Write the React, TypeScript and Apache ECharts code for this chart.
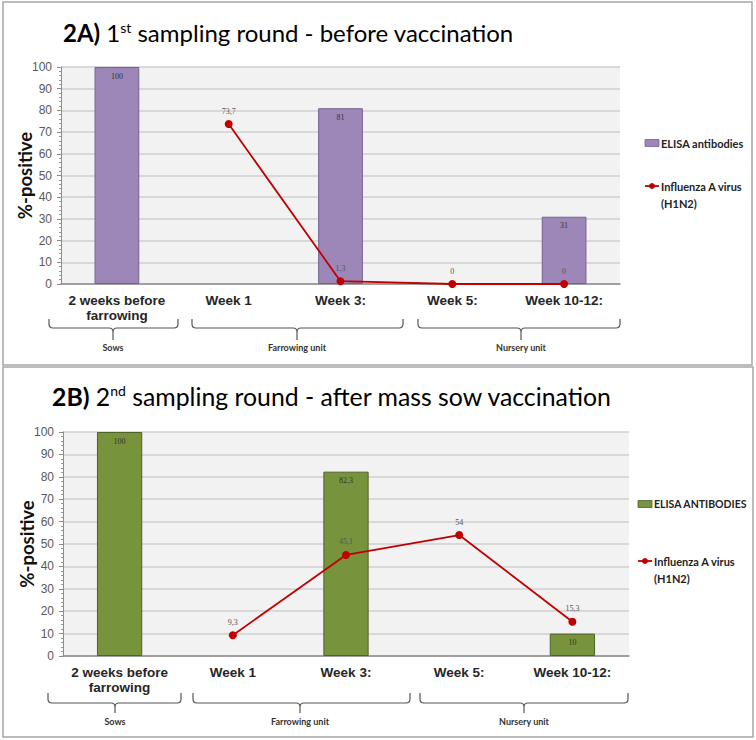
import React, { useEffect, useRef } from "react";
import * as echarts from "echarts";

const categories = ["2 weeks before\nfarrowing", "Week 1", "Week 3:", "Week 5:", "Week 10-12:"];
const elisaA: (number | null)[] = [100, null, 81, null, 31];
const fluA: (number | null)[] = [null, 73.7, 1.3, 0, 0];
const elisaB: (number | null)[] = [100, null, 82.3, null, 10];
const fluB: (number | null)[] = [null, 9.3, 45.1, 54, 15.3];
const groupLabels = ["Sows", "Farrowing unit", "Nursery unit"];
const yMin = 0;
const yMax = 100;
const yInterval = 10;

const PURPLE = "#9d87b8";
const PURPLE_EDGE = "#73648f";
const GREEN = "#77933c";
const GREEN_EDGE = "#4f6228";
const RED = "#c00000";

const toData = (a: (number | null)[]) => a.map((v) => (v === null ? "-" : v));
const fmt = (p: any) => String(p.value).replace(".", ",");

function bracePath(x1: number, x2: number, xt: number, yTop: number, yMid: number, yTip: number) {
  const r = 4;
  return (
    `M${x1},${yTop} L${x1},${yMid - r} Q${x1},${yMid} ${x1 + r},${yMid} L${xt - r},${yMid} Q${xt},${yMid} ${xt},${yMid + r} L${xt},${yTip} ` +
    `M${x2},${yTop} L${x2},${yMid - r} Q${x2},${yMid} ${x2 - r},${yMid} L${xt + r},${yMid} Q${xt},${yMid} ${xt},${yMid + r}`
  );
}

export default function App() {
  const ref = useRef<HTMLDivElement>(null);
  useEffect(() => {
    if (!ref.current) return;
    document.body.style.margin = "0";
    const chart = echarts.init(ref.current, undefined, { renderer: "svg" });

    const bracesA = [
      [49, 178, 113],
      [192, 403, 297],
      [418, 620, 521],
    ];
    const bracesB = [
      [48, 181, 115],
      [193, 410, 300],
      [420, 628, 524],
    ];
    const graphics: any[] = [];
    graphics.push({ type: "rect", shape: { x: 3, y: 2, width: 749, height: 363 }, style: { fill: "none", stroke: "#a6a6a6", lineWidth: 1.5 }, silent: true });
    graphics.push({ type: "rect", shape: { x: 3, y: 367, width: 750, height: 370 }, style: { fill: "none", stroke: "#a6a6a6", lineWidth: 1.5 }, silent: true });

    const addBraces = (list: number[][], yTop: number, yMid: number, yTip: number, yLab: number, key: string) => {
      list.forEach((b, i) => {
        const name = `brace${key}${i}`;
        echarts.graphic.registerShape(name, echarts.graphic.extendPath(bracePath(b[0], b[1], b[2], yTop, yMid, yTip), {}) as any);
        graphics.push({ type: name, x: 0, y: 0, style: { fill: "none", stroke: "#555", lineWidth: 1.2 } });
        graphics.push({
          type: "text",
          x: b[2],
          y: yLab,
          style: { text: groupLabels[i], fill: "#333", font: "bold 9px Lato", align: "center", verticalAlign: "middle" },
        });
      });
    };
    addBraces(bracesA, 319, 328, 340, 347, "A");
    addBraces(bracesB, 693, 703, 713, 721, "B");

    const titleRich = (fs: number) => ({
      b: { fontFamily: "Lato", fontWeight: "bold", fontSize: fs, color: "#111" },
      n: { fontFamily: "Lato", fontSize: fs, color: "#111" },
      s: { fontFamily: "Lato", fontSize: Math.round(fs * 0.58), color: "#111", verticalAlign: "top" },
    });
    graphics.push({
      type: "text",
      x: 63,
      y: 32,
      style: { text: "{b|2A)}{n| 1}{s|st}{n| sampling round - before vaccination}", rich: titleRich(24), verticalAlign: "middle" },
    });
    graphics.push({
      type: "text",
      x: 52,
      y: 396,
      style: { text: "{b|2B)}{n| 2}{s|nd}{n| sampling round - after mass sow vaccination}", rich: titleRich(24.8), verticalAlign: "middle" },
    });

    const legend = (x: number, yBar: number, yLine: number, barColor: string, barEdge: string, barText: string, fsBar: number, fs: number) => {
      graphics.push({ type: "rect", shape: { x, y: yBar - 3.5, width: 14, height: 7 }, style: { fill: barColor, stroke: barEdge, lineWidth: 0.8 } });
      graphics.push({ type: "text", x: x + 16, y: yBar, style: { text: barText, font: `bold ${fsBar}px Lato`, fill: "#222", verticalAlign: "middle" } });
      graphics.push({ type: "line", shape: { x1: x, y1: yLine, x2: x + 14, y2: yLine }, style: { stroke: RED, lineWidth: 1.8 } });
      graphics.push({ type: "circle", shape: { cx: x + 7, cy: yLine, r: 3 }, style: { fill: RED } });
      graphics.push({ type: "text", x: x + 16, y: yLine, style: { text: "Influenza A virus", font: `bold ${fs}px Lato`, fill: "#222", verticalAlign: "middle" } });
      graphics.push({ type: "text", x: x + 16, y: yLine + 17, style: { text: "(H1N2)", font: `bold ${fs}px Lato`, fill: "#222", verticalAlign: "middle" } });
    };
    legend(645, 143, 186, PURPLE, PURPLE_EDGE, "ELISA antibodies", 11, 11);
    legend(638, 504, 561, GREEN, GREEN_EDGE, "ELISA ANTIBODIES", 10.5, 11);

    const yAxisCommon = (gi: number) => ({
      type: "value",
      gridIndex: gi,
      min: yMin,
      max: yMax,
      interval: yInterval,
      name: "%-positive",
      nameLocation: "middle",
      nameGap: 27,
      nameMoveOverlap: false,
      nameTextStyle: { fontFamily: "Lato", fontWeight: "bold", fontSize: 18.5, color: "#111" },
      axisLine: { show: true, lineStyle: { color: "#8c8c8c", width: 1 } },
      axisTick: { show: true, length: 4, lineStyle: { color: "#8c8c8c" } },
      minorTick: { show: true, splitNumber: 5, length: 2, lineStyle: { color: "#9a9a9a" } },
      axisLabel: { fontFamily: "Liberation Sans", fontSize: 12, color: "#595959", margin: 9 },
      splitLine: { lineStyle: { color: "#cfcfcf", width: 1.5 } },
    });
    const xAxisCommon = (gi: number) => ({
      type: "category",
      gridIndex: gi,
      data: categories,
      axisLine: { show: true, lineStyle: { color: "#8c8c8c", width: 1.5 } },
      axisTick: { show: false },
      axisLabel: {
        interval: 0,
        fontFamily: "Liberation Sans",
        fontWeight: "bold",
        fontSize: 13.5,
        color: "#262626",
        lineHeight: 15,
        margin: 9,
      },
    });

    const barLabel = { show: true, position: "insideTop", distance: 5, fontSize: 8, fontFamily: "Liberation Serif", color: "#333", formatter: fmt };
    const lineLabel = { show: true, position: "top", distance: 5, fontSize: 8, fontFamily: "Liberation Serif", color: "#555", formatter: fmt };

    chart.setOption({
      animation: false,
      backgroundColor: "#ffffff",
      graphic: graphics,
      grid: [
        { left: 61, top: 67, width: 559, height: 217, show: true, backgroundColor: "#f2f2f2", borderWidth: 0 },
        { left: 63, top: 432, width: 566, height: 224, show: true, backgroundColor: "#f2f2f2", borderWidth: 0 },
      ],
      xAxis: [xAxisCommon(0), xAxisCommon(1)],
      yAxis: [yAxisCommon(0), yAxisCommon(1)],
      series: [
        {
          name: "ELISA antibodies",
          type: "bar",
          xAxisIndex: 0,
          yAxisIndex: 0,
          data: toData(elisaA),
          barWidth: "40%",
          itemStyle: { color: PURPLE, borderColor: PURPLE_EDGE, borderWidth: 1 },
          label: barLabel,
        },
        {
          name: "Influenza A virus (H1N2)",
          type: "line",
          xAxisIndex: 0,
          yAxisIndex: 0,
          data: toData(fluA),
          symbol: "circle",
          symbolSize: 8,
          clip: false,
          lineStyle: { color: RED, width: 1.8 },
          itemStyle: { color: RED },
          label: lineLabel,
        },
        {
          name: "ELISA ANTIBODIES",
          type: "bar",
          xAxisIndex: 1,
          yAxisIndex: 1,
          data: toData(elisaB),
          barWidth: "40%",
          itemStyle: { color: GREEN, borderColor: GREEN_EDGE, borderWidth: 1 },
          label: barLabel,
        },
        {
          name: "Influenza A virus (H1N2) ",
          type: "line",
          xAxisIndex: 1,
          yAxisIndex: 1,
          data: toData(fluB),
          symbol: "circle",
          symbolSize: 8,
          clip: false,
          lineStyle: { color: RED, width: 1.8 },
          itemStyle: { color: RED },
          label: lineLabel,
        },
      ],
    });
    return () => chart.dispose();
  }, []);
  return <div ref={ref} style={{ position: "fixed", left: 0, top: 0, width: 756, height: 740 }} />;
}
